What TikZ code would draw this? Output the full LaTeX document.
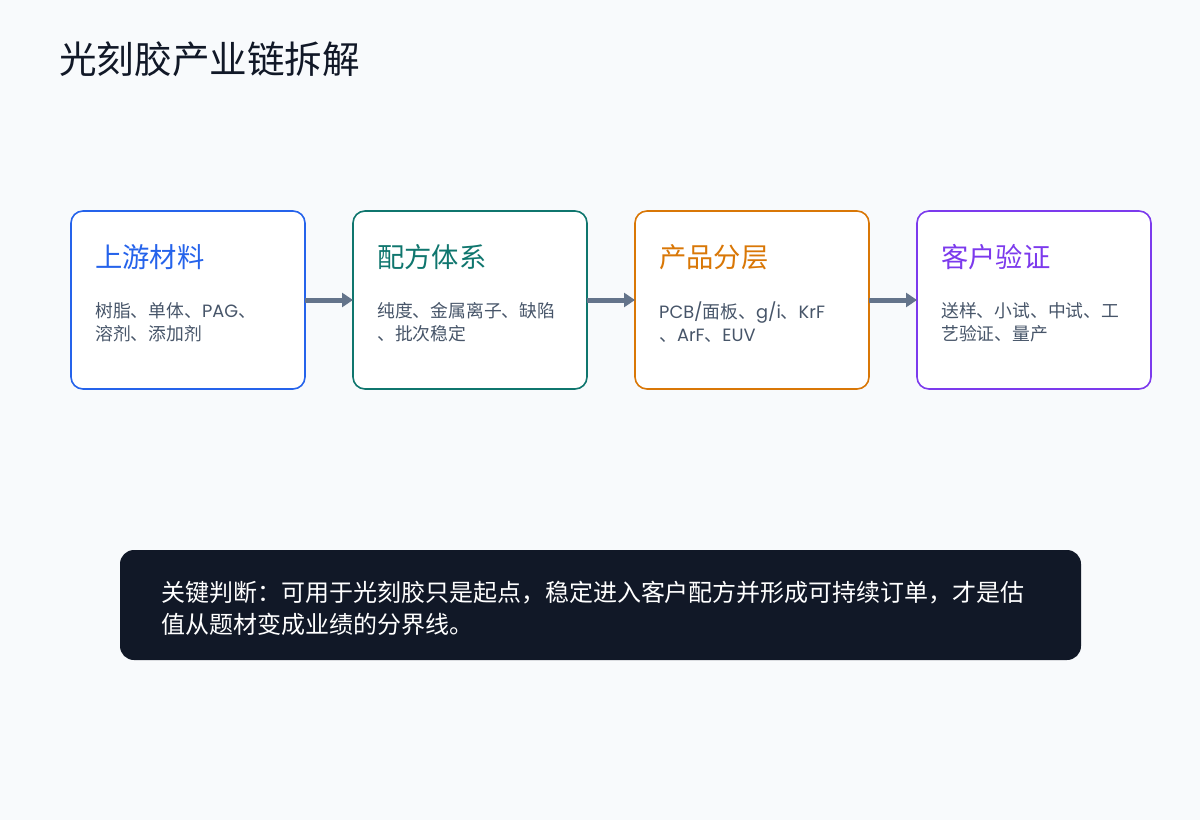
\documentclass[tikz,border=0pt]{standalone}
\usepackage{fontspec}
\setmainfont{Noto Sans CJK SC}
\newfontfamily\latinpart{Poppins}
\usetikzlibrary{positioning,arrows.meta}
\definecolor{bgpage}{HTML}{F8FAFC}
\definecolor{inkdark}{HTML}{111827}
\definecolor{bodygray}{HTML}{475569}
\definecolor{arrowgray}{HTML}{64748B}
\definecolor{upblue}{HTML}{2563EB}
\definecolor{formteal}{HTML}{0F766E}
\definecolor{prodorange}{HTML}{D97706}
\definecolor{custpurple}{HTML}{7C3AED}
\newcommand{\lat}[1]{{\latinpart #1}}
\begin{document}
\begin{tikzpicture}[x=1pt,y=-1pt,
    stagebox/.style={draw=#1, line width=1.6pt, fill=white, rounded corners=12pt,
        minimum width=234pt, minimum height=178pt, inner sep=0pt, outer sep=0pt},
    stagetitle/.style={text=#1, font=\fontsize{27.3}{30}\selectfont, anchor=base west, inner sep=0pt},
    stagebody/.style={text=bodygray, font=\fontsize{17.8}{23}\selectfont, align=left, anchor=north west, inner sep=0pt},
    flow/.style={arrowgray, line width=5pt, -{Triangle[length=11pt,width=14pt]}}]
    \fill[bgpage] (0,0) rectangle (1200,820);
    \useasboundingbox (0,0) rectangle (1200,820);
    \node[anchor=north west, inner sep=0pt, text=inkdark, font=\fontsize{37.6}{40}\selectfont] (heading) at (59,42) {光刻胶产业链拆解};
    \node[stagebox=upblue] (upstream) at (188,300) {};
    \node[stagebox=formteal, right=48pt of upstream] (formula) {};
    \node[stagebox=prodorange, right=48pt of formula] (product) {};
    \node[stagebox=custpurple, right=48pt of product] (customer) {};
    \node[stagetitle=upblue] (upstreamtitle) at ([shift={(24,56)}]upstream.north west) {上游材料};
    \node[stagetitle=formteal] (formulatitle) at ([shift={(24,56)}]formula.north west) {配方体系};
    \node[stagetitle=prodorange] (producttitle) at ([shift={(24,56)}]product.north west) {产品分层};
    \node[stagetitle=custpurple] (customertitle) at ([shift={(24,56)}]customer.north west) {客户验证};
    \node[stagebody] (upstreambody) at ([shift={(24,91)}]upstream.north west) {树脂、单体、\lat{PAG}、\\溶剂、添加剂};
    \node[stagebody] (formulabody) at ([shift={(24,91)}]formula.north west) {纯度、金属离子、缺陷\\、批次稳定};
    \node[stagebody] (productbody) at ([shift={(24,91)}]product.north west) {\lat{PCB/}面板、\lat{g/i}、\lat{KrF}\\、\lat{ArF}、\lat{EUV}};
    \node[stagebody] (customerbody) at ([shift={(24,91)}]customer.north west) {送样、小试、中试、工\\艺验证、量产};
    \draw[flow] (upstream) -- (formula);
    \draw[flow] (formula) -- (product);
    \draw[flow] (product) -- (customer);
    \node[fill=inkdark, rounded corners=14pt, minimum width=961pt, minimum height=110pt, inner sep=0pt] (verdict) at (600.5,605) {};
    \node[anchor=north west, inner sep=0pt, text=white, align=left, font=\fontsize{24}{32}\selectfont] (verdicttext) at ([shift={(41,31)}]verdict.north west) {关键判断：可用于光刻胶只是起点，稳定进入客户配方并形成可持续订单，才是估\\值从题材变成业绩的分界线。};
\end{tikzpicture}
\end{document}
